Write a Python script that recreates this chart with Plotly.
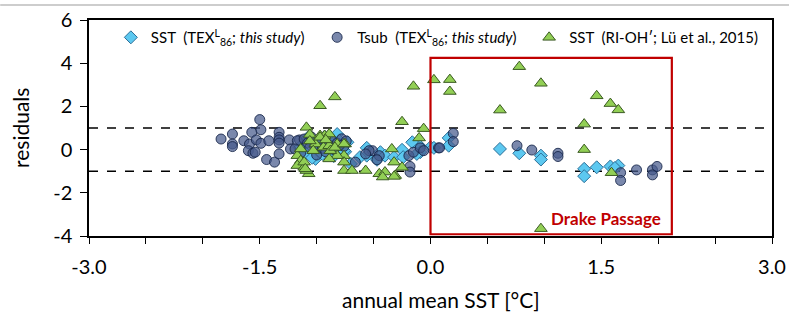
import plotly.graph_objects as go

# ---- data ----
tsub_x = [-1.84, -1.74, -1.74, -1.74, -1.64, -1.57, -1.59, -1.60, -1.56, -1.54, -1.50, -1.49, -1.53, -1.49,
          -1.42, -1.44, -1.37, -1.33, -1.33, -1.33, -1.33, -1.33, -1.24, -1.23, -1.15, -1.17,
          -1.19, -1.11, -1.08, -1.05, -1.02, -0.98, -0.95, -0.93, -0.90, -0.87, -0.85, -0.82, -0.78, -0.76,
          -1.14, -1.00, -0.92, -1.06, -0.80, -0.74,
          -0.51, -0.54, -0.57, -0.66, -0.45, -0.19, -0.18, -0.18, -0.15, -0.09, -0.06, 0.07, -0.47,
          0.08, 0.20, 0.20, 0.76, 0.89, 1.12, 1.12, 1.67, 1.67, 1.81, 1.95, 1.95, 1.99]
tsub_y = [0.49, 0.72, 0.26, 0.14, 0.41, 0.80, 0.26, -0.05, -0.17, -0.12, 1.39, 0.92, 0.45, 0.29,
          0.41, -0.46, -0.58, 0.80, 0.57, 0.45, 0.30, -0.20, 0.45, 0.03, 0.45, 0.41,
          0.03, 0.49, 0.30, 0.60, 0.15, 0.40, 0.05, 0.55, 0.25, 0.45, 0.00, 0.30, 0.50, 0.15,
          -0.15, -0.25, -0.10, 0.10, 0.20, 0.40,
          -0.05, -0.05, -0.20, -0.58, -0.28, -0.28, -0.78, -1.04, -0.12, 0.08, -0.05, 0.08, -0.47,
          0.08, 0.75, 0.37, 0.18, -0.02, -0.17, -0.32, -1.07, -1.43, -0.94, -0.94, -1.17, -0.78]

sst_x = [-1.15, -1.10, -1.05, -1.01, -1.04, -0.98, -0.95, -0.90, -0.88, -0.85, -0.82, -0.80, -0.78, -0.73,
         -0.75, -0.93, -1.08,
         -0.76, -0.70, -0.56, -0.56, -0.44, -0.47, -0.40, -0.32, -0.25, -0.24, -0.16, -0.09, -0.09, 0.00,
         -0.12, -0.62,
         0.03, 0.16, 0.16, 0.61, 0.78, 0.97, 0.97, 1.35, 1.35, 1.46, 1.58, 1.65, 1.62]
sst_y = [0.10, -0.15, 0.35, -0.43, -0.38, 0.20, -0.20, 0.45, 0.05, -0.30, 0.72, 0.40, 0.10, 0.34,
         -0.10, 0.60, 0.55,
         -0.05, -0.66, 0.08, -0.28, -0.12, -0.47, -0.28, -0.35, -0.01, -0.35, 0.34, 0.14, -0.12, 0.11,
         -0.20, -0.35,
         0.08, 0.54, 0.18, 0.03, -0.17, -0.28, -0.46, -0.89, -1.23, -0.82, -0.78, -0.74, -0.85]

rioh_x = [-0.97, -0.84, -1.09, -0.25, -0.06, -0.10, -0.15,
          -1.06, -0.97, -0.93, -0.89, -1.01, -0.94, -0.89, -0.82, -0.75, -0.76, -0.76, -0.76, -0.69,
          -0.82, -0.89, -1.03, -1.17, -1.14, -1.17, -1.11, -1.07, -1.09, -1.11, -1.14, -1.10, -0.97,
          -0.88, -0.84, -1.06, -0.92,
          -0.57, -0.45, -0.40, -0.31, -0.42, -0.32, -0.34, -0.32, -0.25, -0.76,
          0.03, 0.17, 0.17, 0.78, 0.97, 0.61, 1.46, 1.35, 1.35, 0.97, 1.58, 1.65, 1.59]
rioh_y = [2.03, 2.44, 1.03, 1.29, 0.97, 0.54, 2.93,
          0.70, 0.65, 0.65, 0.72, 0.26, 0.11, 0.18, 0.26, 0.26, -0.28, -0.58, -0.97, -0.97,
          -0.28, -0.43, -0.05, -0.28, -0.51, -0.74, -0.82, -1.12, -0.97, -0.58, 0.03, -0.89, 0.57,
          -0.05, 0.10, 0.40, 0.45,
          -0.97, -1.12, -1.04, -1.20, -1.27, -1.24, 0.03, -0.58, -0.82, 0.26,
          3.23, 3.24, 2.69, 3.84, 3.07, 1.83, 2.49, 1.18, 0.00, -3.66, 2.13, 1.84, -1.07]

x_tickvals = [-3.0, -2.5, -2.0, -1.5, -1.0, -0.5, 0.0, 0.5, 1.0, 1.5, 2.0, 2.5, 3.0]
x_ticktext = ["-3.0", "", "", "-1.5", "", "", "0.0", "", "", "1.5", "", "", "3.0"]
y_tickvals = [-4, -2, 0, 2, 4, 6]
y_ticktext = ["-4", "-2", "0", "2", "4", "6"]

FONT = "Lato, 'Open Sans', sans-serif"

fig = go.Figure()
fig.add_trace(go.Scatter(
    x=sst_x, y=sst_y, mode="markers",
    name="SST  (TEX<sup>L</sup><sub>86</sub>; <i>this study</i>)&nbsp;&nbsp;",
    marker=dict(symbol="diamond", size=10, color="#5cc8f0",
                line=dict(color="#2d6f98", width=1))))
fig.add_trace(go.Scatter(
    x=tsub_x, y=tsub_y, mode="markers",
    name="Tsub  (TEX<sup>L</sup><sub>86</sub>; <i>this study</i>)&nbsp;&nbsp;",
    marker=dict(symbol="circle", size=10, color="rgba(70,90,140,0.72)",
                line=dict(color="rgba(20,35,70,0.85)", width=1))))
fig.add_trace(go.Scatter(
    x=rioh_x, y=rioh_y, mode="markers",
    name="SST  (RI-OH\u2032; Lü et al., 2015)",
    marker=dict(symbol="triangle-up", size=11, color="#92cf55",
                line=dict(color="#3b5a23", width=1))))

shapes = [
    dict(type="line", xref="x", yref="y", x0=-3, x1=3, y0=1, y1=1,
         line=dict(color="black", width=1.5, dash="dash"), layer="below"),
    dict(type="line", xref="x", yref="y", x0=-3, x1=3, y0=-1, y1=-1,
         line=dict(color="black", width=1.5, dash="dash"), layer="below"),
    dict(type="rect", xref="x", yref="y", x0=0.0, x1=2.12, y0=-3.92, y1=4.25,
         line=dict(color="#c00000", width=2.2)),
    dict(type="line", xref="paper", yref="paper", x0=-0.13, x1=1.025, y0=1.069, y1=1.069,
         line=dict(color="#bdbdbd", width=1.5)),
]

annotations = [
    dict(text="<b>Drake Passage</b>", x=2.04, y=-3.18, xref="x", yref="y",
         xanchor="right", yanchor="middle", showarrow=False,
         font=dict(family=FONT, size=17, color="#c00000")),
    dict(text="residuals", x=-0.101, y=0.5, xref="paper", yref="paper", textangle=-90,
         xanchor="center", yanchor="middle", showarrow=False,
         font=dict(family=FONT, size=21, color="black")),
    dict(text="annual mean SST [°C]", x=0.515, y=-0.296, xref="paper", yref="paper",
         xanchor="center", yanchor="middle", showarrow=False,
         font=dict(family=FONT, size=21, color="black")),
]

fig.update_layout(
    width=789, height=324,
    margin=dict(l=89, r=17, t=20, b=88, autoexpand=False),
    paper_bgcolor="white", plot_bgcolor="white",
    font=dict(family=FONT, color="black"),
    showlegend=True,
    legend=dict(orientation="h", x=0.032, y=0.995, xanchor="left", yanchor="top",
                bgcolor="rgba(0,0,0,0)", font=dict(family=FONT, size=15, color="black"),
                itemwidth=30, tracegroupgap=0),
    shapes=shapes, annotations=annotations,
    xaxis=dict(range=[-3, 3], tickvals=x_tickvals, ticktext=x_ticktext, automargin=False,
               ticks="outside", ticklen=6, tickcolor="black", showgrid=False, zeroline=False,
               showline=True, linecolor="black", linewidth=1.5, mirror=True,
               ticklabelstandoff=6,
               tickfont=dict(family=FONT, size=20, color="black")),
    yaxis=dict(range=[-4, 6], tickvals=y_tickvals, ticktext=y_ticktext, automargin=False,
               ticks="outside", ticklen=7, tickcolor="black", showgrid=False, zeroline=False,
               showline=True, linecolor="black", linewidth=1.5, mirror=True,
               ticklabelstandoff=4,
               tickfont=dict(family=FONT, size=20, color="black")),
)

fig.write_html("out.html", config={"displayModeBar": False},
               post_script="document.body.style.margin='0';")
